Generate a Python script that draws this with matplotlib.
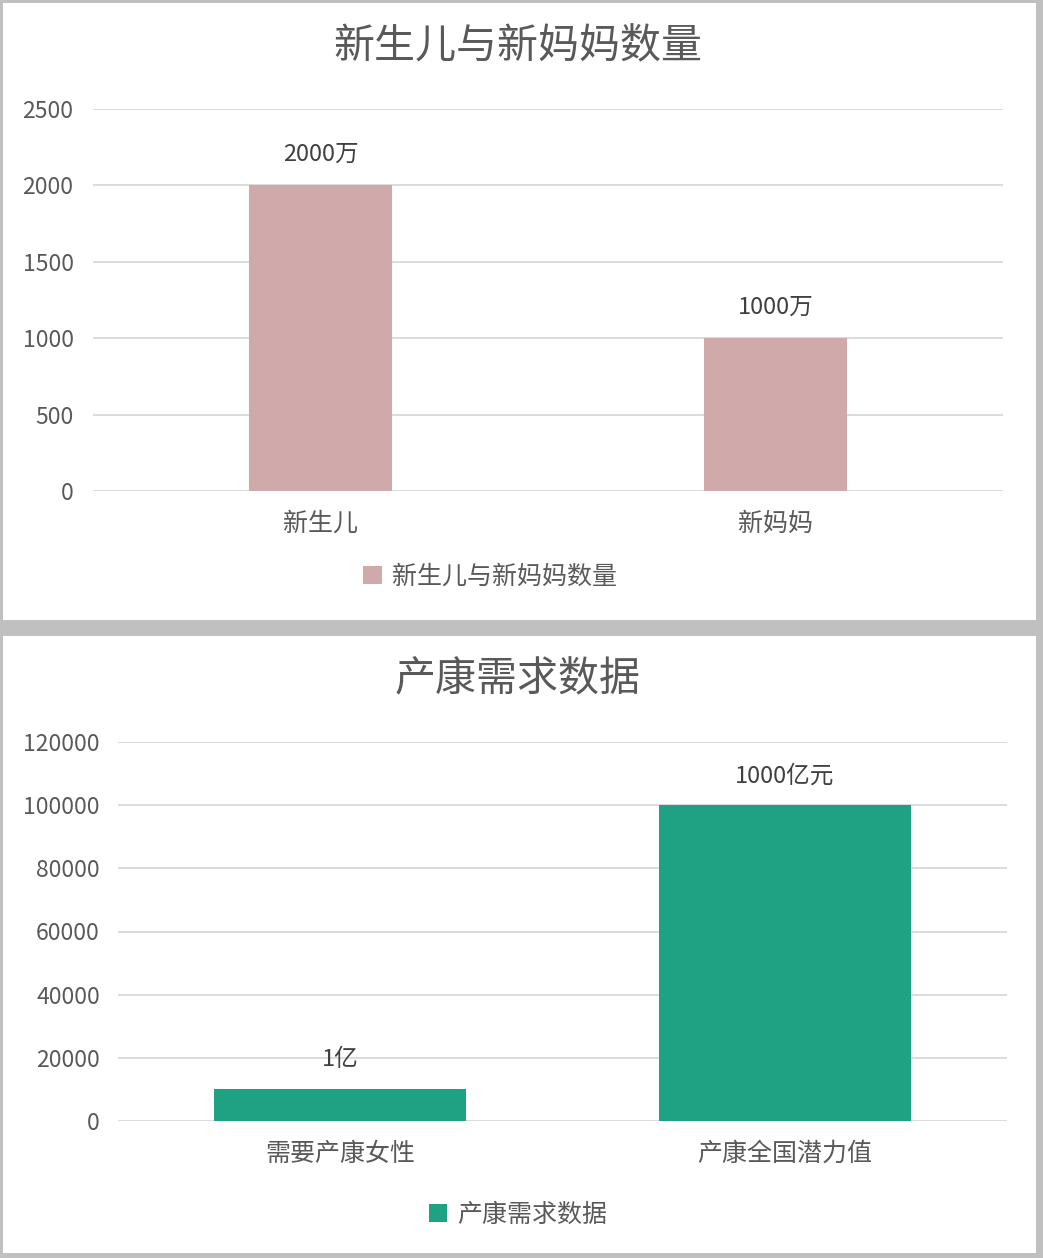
import matplotlib.pyplot as plt
from matplotlib.patches import Rectangle

plt.rcParams['font.family'] = ['Noto Sans CJK SC', 'DejaVu Sans']

# top chart data
births_cats = ['新生儿', '新妈妈']
births_vals = [2000, 1000]
births_labels = ['2000万', '1000万']
births_ticks = [0, 500, 1000, 1500, 2000, 2500]

# bottom chart data
care_cats = ['需要产康女性', '产康全国潜力值']
care_vals = [10000, 100000]
care_labels = ['1亿', '1000亿元']
care_ticks = [0, 20000, 40000, 60000, 80000, 100000, 120000]

W, H = 1043, 1258
fig = plt.figure(figsize=(W / 100, H / 100), dpi=100)
fig.patch.set_facecolor('#c0c0c0')

text_col = '#595959'
grid_col = '#d9d9d9'


def px_box(x0, y0, x1, y1):
    # pixel box (top-left origin) -> figure fraction rect
    return [x0 / W, 1 - y1 / H, (x1 - x0) / W, (y1 - y0) / H]


# white panels
for y0, y1 in [(3, 620), (636, 1253)]:
    l, b, w, h = px_box(3, y0, 1036, y1)
    fig.patches.append(Rectangle((l, b), w, h, transform=fig.transFigure,
                                 facecolor='white', edgecolor='none', zorder=-10))


def draw_chart(rect, cats, vals, labels, ticks, color, width, title, title_xy,
               legend_xy, label_off, ypad):
    ax = fig.add_axes(px_box(*rect))
    ax.set_zorder(1)
    ax.set_facecolor('none')
    x = range(len(cats))
    ax.bar(x, vals, width=width, color=color, zorder=2, label=title)
    ax.set_xlim(-0.5, len(cats) - 0.5)
    ax.set_ylim(ticks[0], ticks[-1])
    ax.set_yticks(ticks)
    ax.set_yticklabels([str(t) for t in ticks])
    ax.set_xticks(list(x))
    ax.set_xticklabels(cats, fontsize=18)
    ax.tick_params(axis='y', length=0, pad=ypad, labelsize=16.5, labelcolor=text_col)
    ax.tick_params(axis='x', length=0, pad=14.5, labelcolor=text_col)
    ax.grid(axis='y', color=grid_col, linewidth=1.3, zorder=0)
    ax.set_axisbelow(True)
    for s in ax.spines.values():
        s.set_visible(False)
    for i, (v, lab) in enumerate(zip(vals, labels)):
        ax.annotate(lab, (i, v), xytext=(0, label_off[i]), textcoords='offset pixels',
                    ha='center', va='center', fontsize=17, color='#404040')
    fig.text(title_xy[0] / W, 1 - title_xy[1] / H, title, ha='center', va='center',
             fontsize=29.5, color=text_col)
    ax.legend(loc='center', bbox_to_anchor=(legend_xy[0] / W, 1 - legend_xy[1] / H),
              bbox_transform=fig.transFigure, frameon=False, fontsize=18,
              handlelength=0.75, handleheight=0.75, handletextpad=0.4,
              labelcolor=text_col)
    return ax


draw_chart((93, 109, 1003, 491), births_cats, births_vals, births_labels,
           births_ticks, '#d0a9aa', 0.316, '新生儿与新妈妈数量', (518, 47),
           (490, 577), [31, 31], 14)

draw_chart((118, 742, 1007, 1121), care_cats, care_vals, care_labels,
           care_ticks, '#1fa283', 0.566, '产康需求数据', (518, 680),
           (518, 1215), [30, 29], 13)

fig.savefig('out.png', dpi=100, facecolor=fig.get_facecolor())
